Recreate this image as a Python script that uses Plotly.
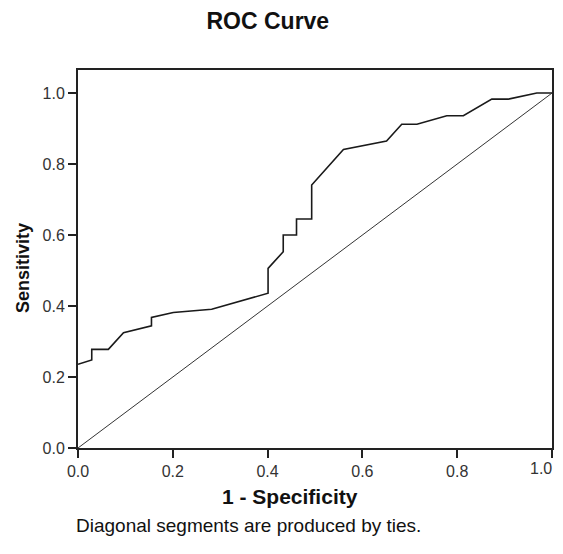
import plotly.graph_objects as go

# ROC curve points
fpr = [0.0, 0.029, 0.029, 0.064, 0.096, 0.155, 0.155, 0.201, 0.282, 0.401, 0.401,
       0.433, 0.433, 0.461, 0.461, 0.493, 0.493, 0.560, 0.651, 0.683, 0.715,
       0.778, 0.813, 0.873, 0.908, 0.968, 1.0]
tpr = [0.236, 0.248, 0.278, 0.278, 0.325, 0.344, 0.368, 0.382, 0.391, 0.436, 0.506,
       0.553, 0.600, 0.600, 0.645, 0.645, 0.741, 0.841, 0.865, 0.912, 0.912,
       0.936, 0.936, 0.983, 0.983, 1.0, 1.0]
ref_x = [0.0, 1.0]
ref_y = [0.0, 1.0]
tick_vals = [0.0, 0.2, 0.4, 0.6, 0.8, 1.0]
tick_text = ["0.0", "0.2", "0.4", "0.6", "0.8", "1.0"]

fig = go.Figure()
fig.add_trace(go.Scatter(x=fpr, y=tpr, mode="lines",
                         line=dict(color="#1a1a1a", width=1.6), showlegend=False))
fig.add_trace(go.Scatter(x=ref_x, y=ref_y, mode="lines",
                         line=dict(color="#333333", width=1), showlegend=False))

font = "Liberation Sans, Arial, sans-serif"
tick_font = dict(size=16, color="#333333", family=font)
axis_common = dict(tickvals=tick_vals, ticktext=tick_text,
                   showgrid=False, zeroline=False, showline=True, linecolor="#222222",
                   linewidth=2, mirror=True, ticks="outside", ticklen=8, tickwidth=2,
                   tickcolor="#222222", tickfont=tick_font)
# the page body adds an 8px margin, so the figure is sized to fit inside the window
fig.update_layout(
    width=547, height=538,
    margin=dict(l=70, r=3, t=62, b=98),
    paper_bgcolor="white", plot_bgcolor="white",
    font=dict(family=font, color="#222222", size=15),
    title=dict(text="<b>ROC Curve</b>", x=0.475, xanchor="center", y=0.976, yanchor="middle",
               font=dict(size=23, color="#111111")),
    xaxis=dict(range=[0, 1.0], automargin=False, **axis_common),
    yaxis=dict(range=[0, 1.065], automargin=False, **axis_common),
    annotations=[
        # last x tick label, kept just inside the right edge
        dict(text=tick_text[-1], xref="x", yref="paper", x=tick_vals[-1], y=-0.055,
             xanchor="right", yanchor="middle", xshift=2, showarrow=False, font=tick_font),
        dict(text="<b>1 - Specificity</b>", xref="paper", yref="paper", x=0.447, y=-0.127,
             xanchor="center", yanchor="middle", showarrow=False,
             font=dict(size=21, color="#111111")),
        dict(text="<b>Sensitivity</b>", xref="paper", yref="paper", x=-0.116, y=0.476,
             xanchor="center", yanchor="middle", showarrow=False, textangle=-90,
             font=dict(size=18, color="#111111")),
        dict(text="Diagonal segments are produced by ties.",
             xref="paper", yref="paper", x=0.359, y=-0.206,
             xanchor="center", yanchor="middle", showarrow=False,
             font=dict(size=19, color="#111111")),
    ],
)

fig.write_html("out.html")
